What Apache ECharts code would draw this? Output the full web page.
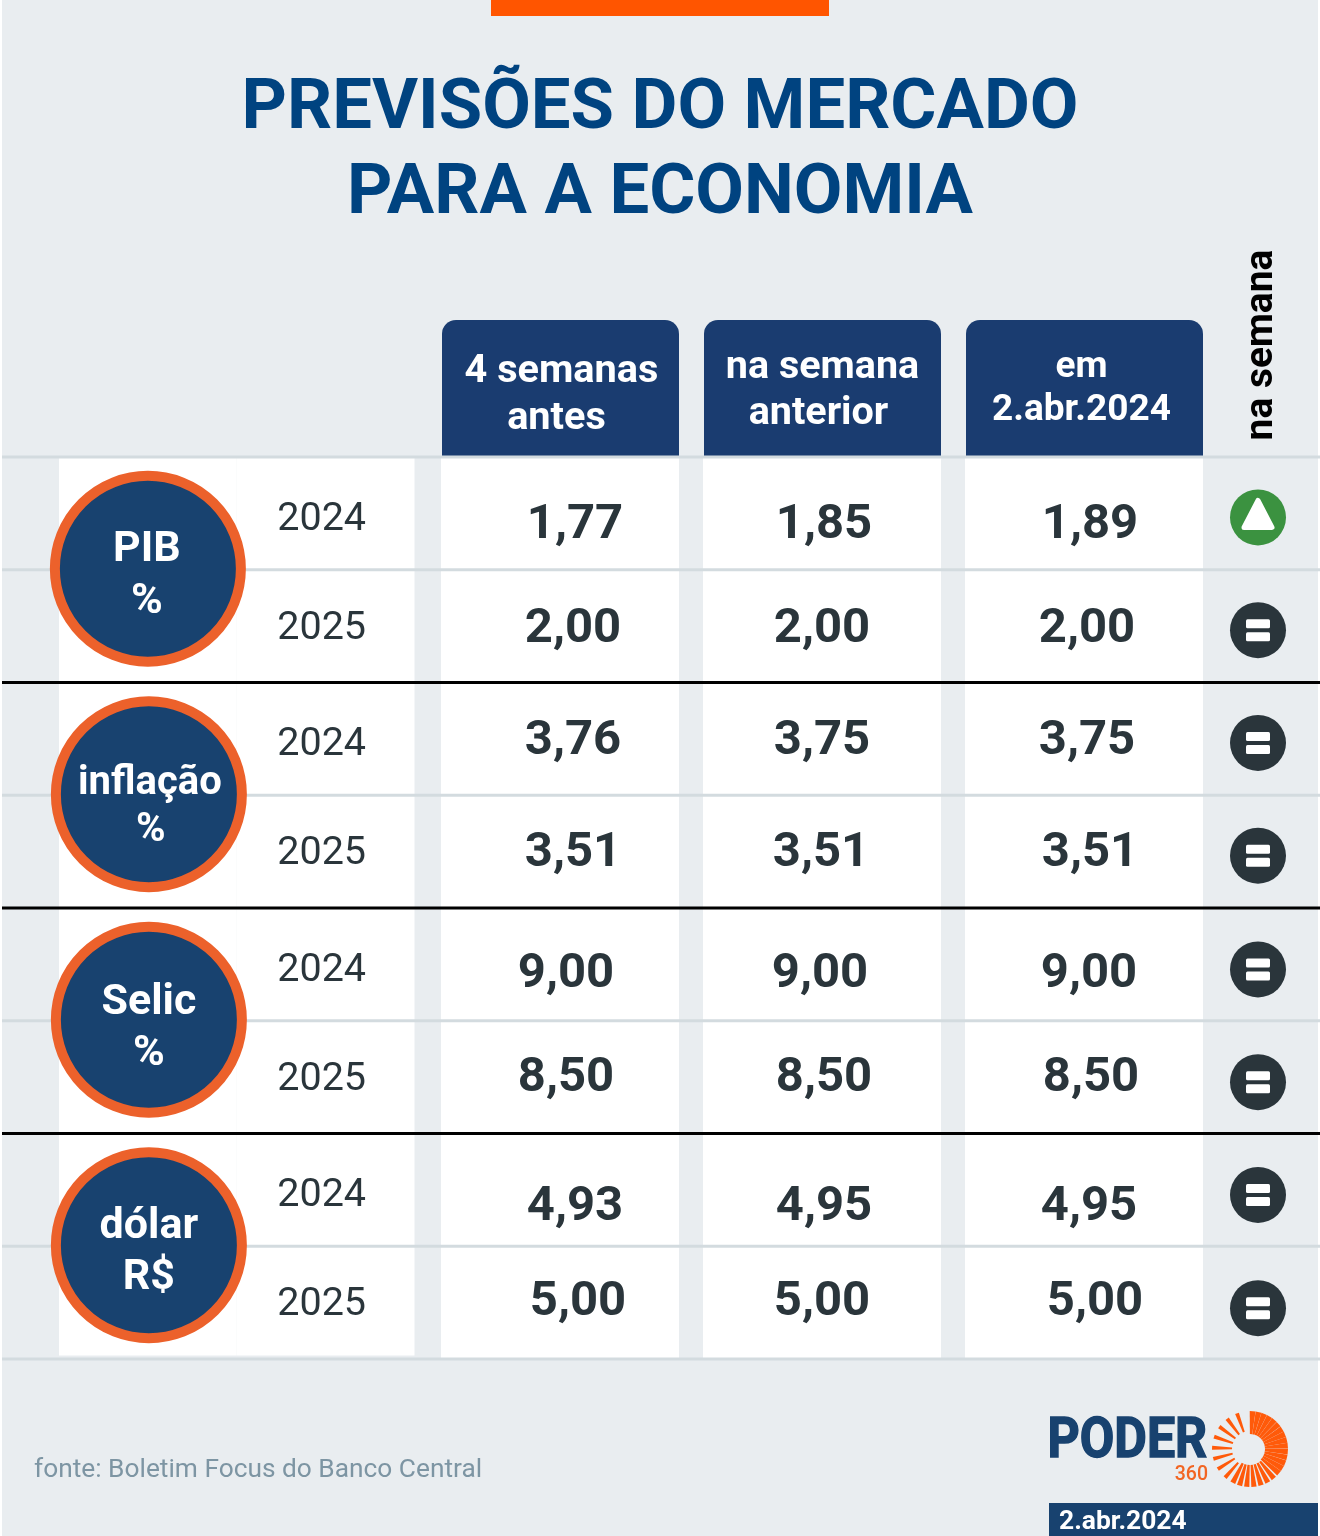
<!DOCTYPE html>
<html lang="pt-BR">
<head>
<meta charset="utf-8">
<style>html,body{margin:0;padding:0;background:#fff}#chart{width:1320px;height:1536px}</style>
<script src="https://cdn.jsdelivr.net/npm/echarts@6/dist/echarts.min.js"></script>
</head>
<body>
<div id="chart"></div>
<script>
// ---- data ----
const titleLines = ['PREVISÕES DO MERCADO', 'PARA A ECONOMIA'];
const sourceNote = 'fonte: Boletim Focus do Banco Central';
const publishDate = '2.abr.2024';
const changeTitle = 'na semana';
const headers = [['4 semanas', 'antes'], ['na semana', 'anterior'], ['em', '2.abr.2024']];
const indicators = [['PIB', '%'], ['inflação', '%'], ['Selic', '%'], ['dólar', 'R$']];
const years = [2024, 2025, 2024, 2025, 2024, 2025, 2024, 2025];
const fourWeeksAgo = [1.77, 2.00, 3.76, 3.51, 9.00, 8.50, 4.93, 5.00];
const previousWeek = [1.85, 2.00, 3.75, 3.51, 9.00, 8.50, 4.95, 5.00];
const current = [1.89, 2.00, 3.75, 3.51, 9.00, 8.50, 4.95, 5.00];
const weekChange = ['up', 'same', 'same', 'same', 'same', 'same', 'same', 'same'];

// ---- styling nudges (the source artwork sets its text slightly off-centre) ----
const nudgeX = [
  [15, 13, 13, 13, 6, 6, 15, 18],
  [2, 0, 0, -1, -2, 2, 2, 0],
  [6, 3, 3, 6, 5, 7, 5, 11]
];
const nudgeY = [8, -1, -2, -2, 6, -3, 13, -4];
const yearNudgeY = [3, -1, 2.5, -1, 3, -1, 3, -1];
const headNudge = [[[1, -20], [-4, 27]], [[0, -24], [-4, 22]], [[-3, -24], [-3, 19]]];
const headSize = [39.7, 39.5, 37];
const circleNudge = [[0, -1], [1, -1], [1, -1], [1, -1]];
const circleTextNudge = [[[-1, -22.5], [-1, 29.5]], [[1, -13.5], [2, 33.5]], [[0, -20.5], [0, 30.5]], [[0, -22], [0, 29]]];
const circleTextSize = [43, 40, 43, 43];
const iconNudgeY = [4, 4, 4, 4, 5, 5, 5, 5.5];

const C = {bg:'#e9edf0', white:'#ffffff', rule:'#d3dbdf', black:'#000000', navy:'#1a3c70', disc:'#18426f',
           ring:'#ec612b', ink:'#2a353b', green:'#3b9240', title:'#004380', note:'#7d95a3', orange:'#ff5500', sun:'#ff5a0a'};
const FONT = 'Roboto, sans-serif';
const font = (w, s) => `${w} ${s}px Roboto, sans-serif`;
const fmt = v => v.toFixed(2).replace('.', ',');
const BASE = 0.09; // optical centring of Roboto text on its box

const rows = years.map((_, i) => i + 0.5);
const gridTop = 457, gridH = 902;
const grids = [
  {left: 2, width: 1318, top: gridTop, height: gridH},
  {left: 59, width: 355.5, top: gridTop, height: gridH},
  {left: 429, width: 786, top: gridTop, height: gridH},
  {left: 429.5, width: 786, top: 320, height: 137},
  {left: 1202, width: 112, top: gridTop, height: gridH}
];
const rowAxis = i => ({gridIndex: i, type: 'value', min: 0, max: 8, interval: 1, inverse: true, show: false});
const xAxes = [
  {gridIndex: 0, type: 'value', min: 0, max: 1, show: false},
  {gridIndex: 1, type: 'category', data: ['indicador', 'ano'], show: false},
  {gridIndex: 2, type: 'category', data: headers.map(h => h.join(' ')), show: false},
  {gridIndex: 3, type: 'category', data: headers.map(h => h.join(' ')), show: false},
  {gridIndex: 4, type: 'category', data: [changeTitle], show: false}
];
const yAxes = [rowAxis(0), rowAxis(1), rowAxis(2),
  {gridIndex: 3, type: 'value', min: 0, max: 1, show: false}, rowAxis(4)];

const txt = (x, y, text, w, s, fill) => ({type: 'text', style: {x, y: y + s * BASE, text, font: font(w, s), fill, align: 'center', verticalAlign: 'middle'}});

const series = [
  // white table cells
  {type: 'bar', xAxisIndex: 1, yAxisIndex: 1, barWidth: '100%', barGap: 0, z: 1, silent: true,
   itemStyle: {color: C.white}, data: [7.97, 7.97]},
  {type: 'bar', xAxisIndex: 2, yAxisIndex: 2, barWidth: 238, z: 1, silent: true,
   itemStyle: {color: C.white}, data: [8, 8, 8]},
  // header boxes
  {type: 'bar', xAxisIndex: 3, yAxisIndex: 3, barWidth: 237, z: 1, silent: true,
   itemStyle: {color: C.navy, borderRadius: [14, 14, 0, 0]}, data: [1, 1, 1]},
  {type: 'custom', xAxisIndex: 3, yAxisIndex: 3, z: 5, silent: true, clip: false,
   data: headers.map((h, i) => [i, 0.5]),
   renderItem: (p, api) => {
     const i = api.value(0), c = api.coord([i, api.value(1)]);
     return {type: 'group', children: headers[i].map((t, k) =>
       txt(c[0] + headNudge[i][k][0], c[1] + headNudge[i][k][1], t, 700, headSize[i], C.white))};
   }},
  // horizontal rules
  {type: 'custom', xAxisIndex: 0, yAxisIndex: 0, z: 3, silent: true, clip: false,
   data: [0, 1, 2, 3, 4, 5, 6, 7, 8].map(v => [0, v]),
   renderItem: (p, api) => {
     const v = api.value(1), a = api.coord([0, v]), b = api.coord([1, v]);
     const heavy = v === 2 || v === 4 || v === 6;
     return {type: 'line', shape: {x1: a[0], y1: a[1], x2: b[0], y2: b[1]},
             style: {stroke: heavy ? C.black : C.rule, lineWidth: 3}};
   }},
  // indicator discs
  {type: 'custom', xAxisIndex: 1, yAxisIndex: 1, z: 6, silent: true, clip: false,
   data: indicators.map((d, i) => [0, i * 2 + 1, i]),
   renderItem: (p, api) => {
     const i = api.value(2), c = api.coord([0, api.value(1)]);
     const cx = c[0] + circleNudge[i][0], cy = c[1] + circleNudge[i][1];
     return {type: 'group', children: [
       {type: 'circle', shape: {cx, cy, r: 93}, style: {fill: C.disc, stroke: C.ring, lineWidth: 10}},
       txt(cx + circleTextNudge[i][0][0], cy + circleTextNudge[i][0][1], indicators[i][0], 700, circleTextSize[i], C.white),
       txt(cx + circleTextNudge[i][1][0], cy + circleTextNudge[i][1][1], indicators[i][1], 700, circleTextSize[i], C.white)
     ]};
   }},
  // year labels
  {type: 'custom', xAxisIndex: 1, yAxisIndex: 1, z: 5, silent: true, clip: false,
   data: years.map((y, i) => [1, rows[i], y]),
   renderItem: (p, api) => {
     const c = api.coord([1, api.value(1)]);
     return txt(c[0] - 4, c[1] + yearNudgeY[p.dataIndex], String(api.value(2)), 400, 39.5, C.ink);
   }},
  // values
  ...[fourWeeksAgo, previousWeek, current].map((col, k) => ({
    type: 'custom', xAxisIndex: 2, yAxisIndex: 2, z: 5, silent: true, clip: false,
    data: col.map((v, i) => [k, rows[i], v]),
    renderItem: (p, api) => {
      const c = api.coord([k, api.value(1)]), i = p.dataIndex;
      return txt(c[0] + nudgeX[k][i], c[1] + nudgeY[i], fmt(api.value(2)), 700, 49, C.ink);
    }
  })),
  // weekly change icons
  {type: 'custom', xAxisIndex: 4, yAxisIndex: 4, z: 5, silent: true, clip: false,
   data: weekChange.map((s, i) => [0, rows[i]]),
   renderItem: (p, api) => {
     const c = api.coord([0, api.value(1)]), x = c[0], y = c[1] + iconNudgeY[p.dataIndex];
     const up = weekChange[p.dataIndex] === 'up';
     const kids = [{type: 'circle', shape: {cx: x, cy: y, r: 28}, style: {fill: up ? C.green : C.ink}}];
     if (up) {
       kids.push({type: 'polygon', shape: {points: [[x, y - 17], [x + 14, y + 10], [x - 14, y + 10]]},
                  style: {fill: C.white, stroke: C.white, lineWidth: 5, lineJoin: 'round'}});
     } else {
       kids.push({type: 'rect', shape: {x: x - 12, y: y - 11, width: 24, height: 9, r: 1.5}, style: {fill: C.white}});
       kids.push({type: 'rect', shape: {x: x - 12, y: y + 2, width: 24, height: 9, r: 1.5}, style: {fill: C.white}});
     }
     return {type: 'group', children: kids};
   }}
];

// logo sunburst (decorative)
const sunSpokes = [];
const addSpokes = (from, to, step, halfDeg, r0) => {
  for (let deg = from; deg <= to; deg += step) {
    const a = (deg - 90) * Math.PI / 180, half = halfDeg * Math.PI / 180, r1 = 38;
    sunSpokes.push({type: 'polygon', z: 10, silent: true, shape: {points: [
      [1250 + r0 * Math.cos(a - half), 1449 + r0 * Math.sin(a - half)],
      [1250 + r1 * Math.cos(a - half), 1449 + r1 * Math.sin(a - half)],
      [1250 + r1 * Math.cos(a + half), 1449 + r1 * Math.sin(a + half)],
      [1250 + r0 * Math.cos(a + half), 1449 + r0 * Math.sin(a + half)]
    ]}, style: {fill: C.sun}});
  }
};
addSpokes(4, 130, 9, 4.4, 15);
addSpokes(141, 210, 11, 4, 16);
addSpokes(221, 340, 17, 3, 18);

const chart = echarts.init(document.getElementById('chart'), null, {renderer: 'canvas', width: 1320, height: 1536});
chart.setOption({
  animation: false,
  backgroundColor: '#ffffff',
  title: {
    text: titleLines.join('\n'), left: 'center', top: 63, z: 8,
    textStyle: {fontFamily: FONT, fontWeight: 700, fontSize: 70.6, lineHeight: 85, color: C.title}
  },
  grid: grids, xAxis: xAxes, yAxis: yAxes, series,
  graphic: {elements: [
    {type: 'rect', z: -100, silent: true, shape: {x: 2, y: 0, width: 1316, height: 1536}, style: {fill: C.bg}},
    {type: 'rect', z: 2, silent: true, shape: {x: 491, y: 0, width: 338, height: 16}, style: {fill: C.orange}},
    {type: 'text', z: 5, silent: true, x: 1262, y: 345, rotation: Math.PI / 2,
     style: {text: changeTitle, font: font(700, 39), fill: C.black, align: 'center', verticalAlign: 'middle'}},
    {type: 'text', z: 5, silent: true, style: {x: 34, y: 1470, text: sourceNote, font: font(400, 26.3), fill: C.note, align: 'left', verticalAlign: 'middle'}},
    {type: 'text', z: 10, silent: true, x: 1047.5, y: 1443, scaleX: 0.895,
     style: {text: 'PODER', font: font(700, 56), fill: C.disc, stroke: C.disc, lineWidth: 1.5, align: 'left', verticalAlign: 'middle'}},
    {type: 'text', z: 10, silent: true, style: {x: 1208, y: 1475, text: '360', font: font(500, 19.5), fill: '#f26522', align: 'right', verticalAlign: 'middle'}},
    ...sunSpokes,
    {type: 'rect', z: 10, silent: true, shape: {x: 1049, y: 1503, width: 269, height: 33}, style: {fill: C.disc}},
    {type: 'text', z: 11, silent: true, style: {x: 1059, y: 1522, text: publishDate, font: font(700, 26.4), fill: C.white, align: 'left', verticalAlign: 'middle'}}
  ]}
});
</script>
</body>
</html>
